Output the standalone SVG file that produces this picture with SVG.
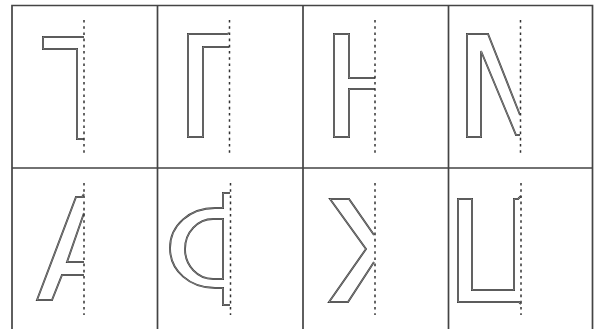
<svg xmlns="http://www.w3.org/2000/svg" width="598" height="329" viewBox="0 0 598 329">
<style>
.grid{stroke:#444;stroke-width:1.7;fill:none}
.ax{stroke:#333;stroke-width:1.5;stroke-dasharray:2.6 3.6;fill:none}
.sh{stroke:#3a3a3a;stroke-width:1.9;fill:none;stroke-linejoin:miter}
.shi{stroke:#fff;stroke-width:0.35;fill:none}
</style>
<rect width="598" height="329" fill="#fff"/>
<g id="grid">
<path class="grid" d="M12,329 V5.5 H592.5 V329 M157.5,5.5 V329 M303,5.5 V329 M448.5,5.5 V329 M12,168 H592.5"/>
</g>
<defs>
<path id="s1" d="M84,37 H43 V49 H77 V139 H84"/>
<path id="s2" d="M229,33 L227,34 H188 V137 H203 V47 H229"/>
<path id="s3" d="M375,78 H349 V34 H334 V137 H349 V89 H375"/>
<path id="s4" d="M520,115 L488,34 H467 V137 H481 V51 L516,135 H520"/>
<path id="s5" d="M84,194 L82,197 H76 L37,300 H52 L62,275 H84 M84,262 H67 L84,213"/>
<path id="s6" d="M230,193 H223 V208 H215 C190,208 170,225 170,248 C170,271 190,288 215,288 H223 V305 H230 M223,219 H213 C198,219 185,232 185,249 C185,266 198,279 213,279 H223 Z"/>
<path id="s7" d="M374,235 L349,199 H330 L366,249 L329,302 H348 L374,262"/>
<path id="s8" d="M521,196 L518,199 H514 V290 H472 V199 H458 V302 H519 L521,304"/>
</defs>
<g id="cell1"><use href="#s1" class="sh"/><use href="#s1" class="shi"/><line class="ax" x1="84" y1="20" x2="84" y2="153"/></g>
<g id="cell2"><use href="#s2" class="sh"/><use href="#s2" class="shi"/><line class="ax" x1="229.5" y1="20" x2="229.5" y2="153"/></g>
<g id="cell3"><use href="#s3" class="sh"/><use href="#s3" class="shi"/><line class="ax" x1="375" y1="20" x2="375" y2="153"/></g>
<g id="cell4"><use href="#s4" class="sh"/><use href="#s4" class="shi"/><line class="ax" x1="520.5" y1="20" x2="520.5" y2="153"/></g>
<g id="cell5"><use href="#s5" class="sh"/><use href="#s5" class="shi"/><line class="ax" x1="84" y1="183" x2="84" y2="315"/></g>
<g id="cell6"><use href="#s6" class="sh"/><use href="#s6" class="shi"/><line class="ax" x1="230.5" y1="183" x2="230.5" y2="315"/></g>
<g id="cell7"><use href="#s7" class="sh"/><use href="#s7" class="shi"/><line class="ax" x1="375" y1="183" x2="375" y2="315"/></g>
<g id="cell8"><use href="#s8" class="sh"/><use href="#s8" class="shi"/><line class="ax" x1="521" y1="183" x2="521" y2="315"/></g>
</svg>
